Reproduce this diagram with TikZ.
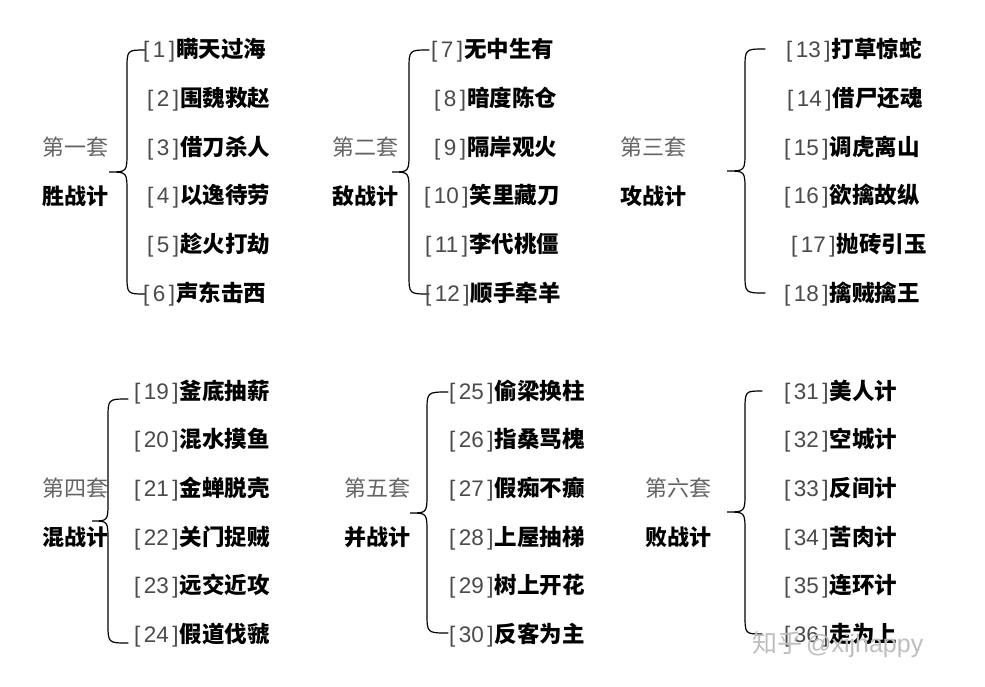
\documentclass[tikz,border=0pt]{standalone}
\usepackage{fontspec}
\setmainfont{Liberation Sans}
\newfontfamily\cjk{Noto Sans CJK SC}
\newfontfamily\numf{Liberation Sans}
\definecolor{numgray}{RGB}{75,75,75}
\definecolor{labgray}{RGB}{100,100,100}
\definecolor{wmgray}{RGB}{190,190,190}
\tikzset{
  itemstyle/.style={anchor=base west, inner sep=0pt, font=\fontsize{22.5}{24}\selectfont},
  labg/.style={anchor=base west, inner sep=0pt, text=labgray, font=\fontsize{22}{24}\selectfont\cjk},
  labb/.style={anchor=base west, inner sep=0pt, text=black, font=\fontsize{22}{24}\selectfont\cjk\bfseries},
  bracestyle/.style={draw=black, line width=1.2pt, line cap=round},
  wmstyle/.style={anchor=base west, inner sep=0pt, text=wmgray, font=\fontsize{25}{27}\selectfont}
}
\newcommand\drawbrace[7]{%
  \coordinate (#1-top) at (#2,#5);
  \coordinate (#1-tip) at (#4,#7);
  \coordinate (#1-bot) at (#2,#6);
  \draw[bracestyle] (#1-top) .. controls (#3,#5) .. (#3,#5+20) -- (#3,#7-20)
     .. controls (#3,#7) .. (#1-tip) .. controls (#3,#7) .. (#3,#7+20)
     -- (#3,#6-20) .. controls (#3,#6) .. (#1-bot);
}
\newcommand\itm[5]{%
  \node[itemstyle] (#1) at (#2,#3+7.5) {{\numf\color{numgray}[\kern3.5pt#4\kern3.5pt]}{\cjk\bfseries\kern1pt #5}};
}
\begin{document}
\begin{tikzpicture}[x=1pt,y=-1pt]
\useasboundingbox (0,0) rectangle (985,686);
\fill[white] (0,0) rectangle (985,686);

% ---- group 1
\node[labg] (l1a) at (42,148+7.5) {第一套};
\node[labb] (l1b) at (42,197+7.5) {胜战计};
\drawbrace{b1}{145}{127}{109}{50}{294}{172}
\itm{i1}{143}{50}{1}{瞒天过海}
\itm{i2}{147}{98.8}{2}{围魏救赵}
\itm{i3}{147}{147.6}{3}{借刀杀人}
\itm{i4}{147}{196.4}{4}{以逸待劳}
\itm{i5}{147}{245.2}{5}{趁火打劫}
\itm{i6}{143}{294}{6}{声东击西}

% ---- group 2
\node[labg] (l2a) at (332,148+7.5) {第二套};
\node[labb] (l2b) at (332,197+7.5) {敌战计};
\drawbrace{b2}{429}{409}{392}{50}{294}{172}
\itm{i7}{431}{50}{7}{无中生有}
\itm{i8}{434}{98.8}{8}{暗度陈仓}
\itm{i9}{434}{147.6}{9}{隔岸观火}
\itm{i10}{424}{196.4}{10}{笑里藏刀}
\itm{i11}{425}{245.2}{11}{李代桃僵}
\itm{i12}{425}{294}{12}{顺手牵羊}

% ---- group 3
\node[labg] (l3a) at (620,148+7.5) {第三套};
\node[labb] (l3b) at (620,197+7.5) {攻战计};
\drawbrace{b3}{765}{745}{727}{49}{293}{171}
\itm{i13}{786}{50}{13}{打草惊蛇}
\itm{i14}{787}{98.8}{14}{借尸还魂}
\itm{i15}{784}{147.6}{15}{调虎离山}
\itm{i16}{784}{196.4}{16}{欲擒故纵}
\itm{i17}{791}{245.2}{17}{抛砖引玉}
\itm{i18}{784}{294}{18}{擒贼擒王}

% ---- group 4
\node[labg] (l4a) at (42,489+7.5) {第四套};
\node[labb] (l4b) at (42,538+7.5) {混战计};
\drawbrace{b4}{128}{108}{92}{399}{643}{521}
\itm{i19}{134}{391.5}{19}{釜底抽薪}
\itm{i20}{134}{440.2}{20}{混水摸鱼}
\itm{i21}{134}{488.9}{21}{金蝉脱壳}
\itm{i22}{134}{537.6}{22}{关门捉贼}
\itm{i23}{134}{586.3}{23}{远交近攻}
\itm{i24}{134}{635}{24}{假道伐虢}

% ---- group 5
\node[labg] (l5a) at (344,489+7.5) {第五套};
\node[labb] (l5b) at (344,538+7.5) {并战计};
\drawbrace{b5}{448}{427}{410}{392}{633}{513}
\itm{i25}{449}{391.5}{25}{偷梁换柱}
\itm{i26}{449}{440.2}{26}{指桑骂槐}
\itm{i27}{449}{488.9}{27}{假痴不癫}
\itm{i28}{449}{537.6}{28}{上屋抽梯}
\itm{i29}{449}{586.3}{29}{树上开花}
\itm{i30}{449}{635}{30}{反客为主}

% ---- group 6
\node[labg] (l6a) at (645,489+7.5) {第六套};
\node[labb] (l6b) at (645,538+7.5) {败战计};
\drawbrace{b6}{762}{745}{727}{391}{634}{512}
\itm{i31}{784}{391.5}{31}{美人计}
\itm{i32}{784}{440.2}{32}{空城计}
\itm{i33}{784}{488.9}{33}{反间计}
\itm{i34}{784}{537.6}{34}{苦肉计}
\itm{i35}{784}{586.3}{35}{连环计}
\itm{i36}{784}{635}{36}{走为上}

% ---- watermark
\node[wmstyle] (wm) at (752,652) {{\cjk 知乎}\kern4pt @xijhappy};
\end{tikzpicture}
\end{document}
